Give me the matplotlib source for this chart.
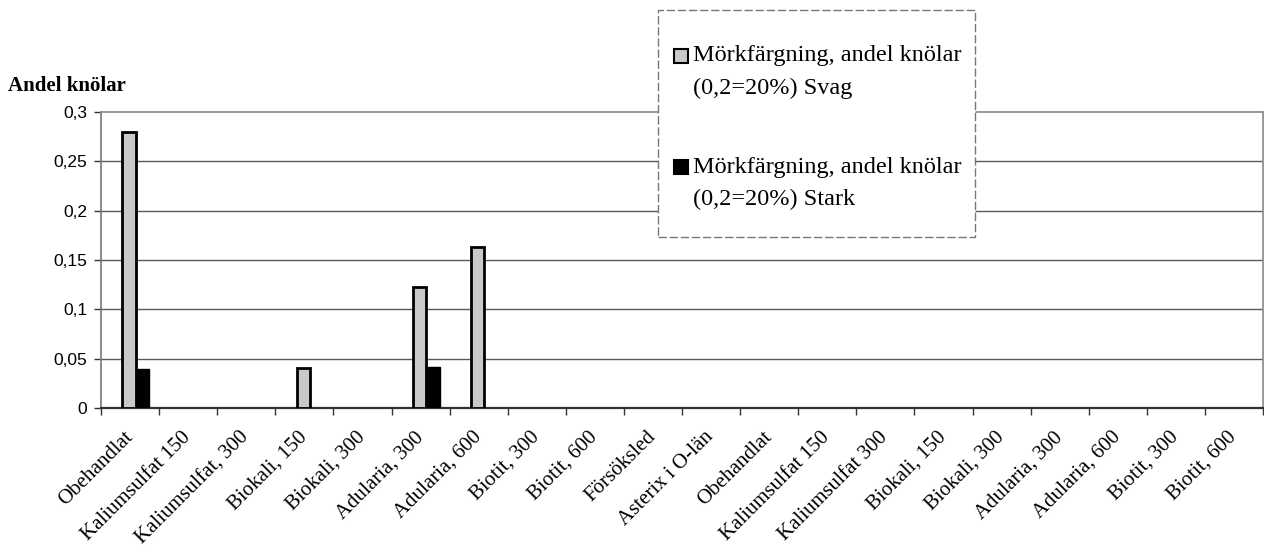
import numpy as np
import matplotlib.pyplot as plt
from matplotlib.patches import Rectangle
from matplotlib.transforms import ScaledTranslation

# categories along the x axis (two blocks of treatments)
categories = ['Obehandlat', 'Kaliumsulfat 150', 'Kaliumsulfat, 300', 'Biokali, 150',
              'Biokali, 300', 'Adularia, 300', 'Adularia, 600', 'Biotit, 300',
              'Biotit, 600', 'Försöksled', 'Asterix i O-län', 'Obehandlat',
              'Kaliumsulfat 150', 'Kaliumsulfat 300', 'Biokali, 150', 'Biokali, 300',
              'Adularia, 300', 'Adularia, 600', 'Biotit, 300', 'Biotit, 600']

nan = np.nan
# empty cells in the source sheet -> nan (no bar drawn)
svag = [0.28, nan, nan, 0.041, nan, 0.123, 0.163, nan, nan, nan,
        nan, nan, nan, nan, nan, nan, nan, nan, nan, nan]
stark = [0.04, nan, nan, nan, nan, 0.042, nan, nan, nan, nan,
         nan, nan, nan, nan, nan, nan, nan, nan, nan, nan]

yticks = [0, 0.05, 0.1, 0.15, 0.2, 0.25, 0.3]
ytick_labels = ['0', '0,05', '0,1', '0,15', '0,2', '0,25', '0,3']

legend_lines = [['Mörkfärgning, andel knölar', '(0,2=20%) Svag'],
                ['Mörkfärgning, andel knölar', '(0,2=20%) Stark']]

W, H = 1264, 550
fig = plt.figure(figsize=(W / 100, H / 100), dpi=100)
ax = fig.add_axes([101 / W, 1 - 408 / H, 1162 / W, 296 / H])

serif = ['Liberation Serif', 'DejaVu Serif']
sans = ['Liberation Sans', 'DejaVu Sans']

x = np.arange(len(categories))
bw = 0.23
off = 0.1
svag_col = '#c9c9c9'
ax.bar(x + off - bw / 2, svag, bw, color=svag_col, edgecolor='black', linewidth=2.0, zorder=3)
ax.bar(x + off + bw / 2, stark, bw, color='black', edgecolor='black', linewidth=1.0, zorder=3)

ax.set_xlim(-0.5, len(categories) - 0.5)
ax.set_ylim(0, 0.3)

# gridlines
for v in yticks[1:-1]:
    ax.axhline(v, color='#5a5a5a', linewidth=1.0, zorder=1)

ax.set_yticks(yticks)
ax.set_yticklabels(ytick_labels, fontsize=12.5, family=sans)

# category ticks on boundaries, labels at centers
ax.set_xticks(np.arange(len(categories) + 1) - 0.5)
ax.set_xticklabels([])
ax.set_xticks(x, minor=True)
ax.set_xticklabels(categories, minor=True, rotation=45, ha='right', va='center',
                   rotation_mode='anchor', fontsize=15, family=serif)
shift = ScaledTranslation(-0.13, 0, fig.dpi_scale_trans)
for lab in ax.get_xticklabels(minor=True):
    lab.set_transform(lab.get_transform() + shift)
ax.tick_params(axis='x', which='minor', length=0, pad=19)
ax.tick_params(axis='x', which='major', length=5, width=1, color='#333333')
ax.tick_params(axis='y', length=5, width=1, color='#333333', pad=5)

for s in ['top', 'right']:
    ax.spines[s].set_color('#888888')
    ax.spines[s].set_linewidth(1.2)
    ax.spines[s].set_linestyle((0, (2, 1)))
ax.spines['left'].set_color('#777777')
ax.spines['left'].set_linewidth(1.2)
ax.spines['bottom'].set_color('#333333')
ax.spines['bottom'].set_linewidth(1.6)

fig.text(8 / W, 1 - 86 / H, 'Andel knölar', fontsize=15, fontweight='bold',
         family=serif, va='center', ha='left')

# legend box drawn in figure pixels
def px(xp, yp):
    return xp / W, 1 - yp / H

lx0, ly0, lx1, ly1 = 658, 10, 975, 237
fig.add_artist(Rectangle(px(lx0, ly1), (lx1 - lx0) / W, (ly1 - ly0) / H,
                         transform=fig.transFigure, facecolor='white',
                         edgecolor='#777777', linewidth=1.0,
                         linestyle=(0, (6, 2)), zorder=10))
entries = [(svag_col, 56), ('black', 167)]
for (col, yline), lines in zip(entries, legend_lines):
    fig.add_artist(Rectangle(px(674, yline + 7), 14 / W, 14 / H,
                             transform=fig.transFigure, facecolor=col,
                             edgecolor='black', linewidth=1.5, zorder=11))
    for k, txt in enumerate(lines):
        fig.text(693 / W, 1 - (yline + 32 * k) / H, txt, fontsize=17.5, family=serif,
                 va='center', ha='left', zorder=12)

fig.savefig('out.png', dpi=100)
